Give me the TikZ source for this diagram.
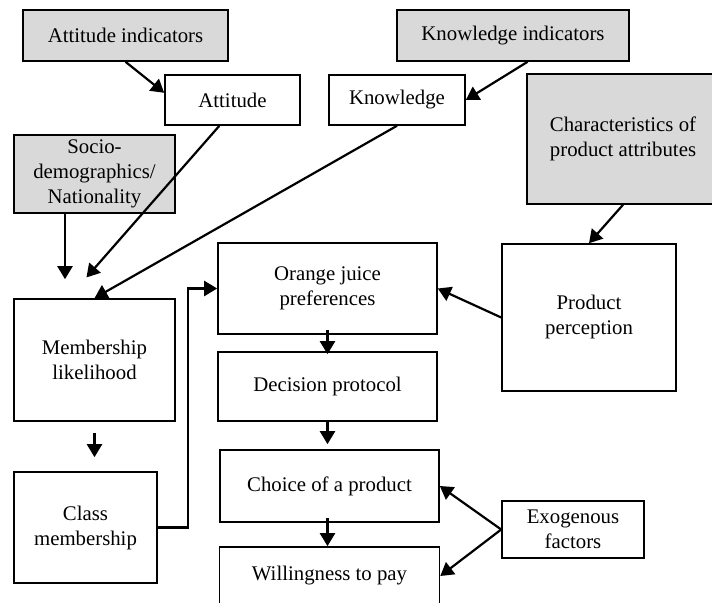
\documentclass[tikz,border=0pt]{standalone}
\usepackage{fontspec}
\setmainfont{Liberation Serif}
\usetikzlibrary{arrows.meta}
\definecolor{grisclair}{RGB}{217,217,217}
\begin{document}
\begin{tikzpicture}[x=0.5pt,y=-0.5pt]
\tikzset{boite/.style={draw, line width=0.8pt, align=center, inner sep=1pt, font=\fontsize{10.4}{12.5}\selectfont},
  boitegrise/.style={boite, fill=grisclair},
  fleche/.style={-{Triangle[length=6.5pt,width=7.5pt]}, line width=1.1pt}}
\useasboundingbox (0,0) rectangle (712,603);
\clip (0,0) rectangle (712,603);
\node[boitegrise, minimum width=102.5pt, minimum height=25.5pt] (AI) at (125.5,35.5) {Attitude indicators};
\node[boitegrise, minimum width=116pt, minimum height=25.5pt] (KI) at (513,35.5) {Knowledge indicators};
\node[boite, minimum width=67.5pt, minimum height=25pt] (A) at (232.5,100) {Attitude};
\node[boite, minimum width=68pt, minimum height=25pt] (K) at (397,100) {Knowledge};
\node[boitegrise, minimum width=96pt, minimum height=65pt] (C) at (623,139) {Characteristics of\\product attributes};
\node[boitegrise, minimum width=80.5pt, minimum height=39pt] (S) at (94.5,174) {Socio-\\demographics/\\Nationality};
\node[boite, minimum width=80.5pt, minimum height=61pt] (M) at (94.5,360) {Membership\\likelihood};
\node[boite, minimum width=71.5pt, minimum height=55.5pt] (CM) at (85.5,527.5) {Class\\membership};
\node[boite, minimum width=109.5pt, minimum height=45.5pt] (OJ) at (327.5,288.5) {Orange juice\\preferences};
\node[boite, minimum width=109.5pt, minimum height=34.5pt] (D) at (327.5,386.5) {Decision protocol};
\node[boite, minimum width=109.5pt, minimum height=36pt] (CP) at (329.5,486) {Choice of a product};
\node[boite, minimum width=110pt, minimum height=29pt] (W) at (329.5,576) {Willingness to pay};
\node[boite, minimum width=87pt, minimum height=73.5pt] (P) at (589,317.5) {Product\\perception};
\node[boite, minimum width=71pt, minimum height=28.5pt] (E) at (573,529.5) {Exogenous\\factors};
% indicators
\draw[fleche] (AI.south) -- (A.174);
\draw[fleche] (KI.-61) -- (K.east);
% towards membership likelihood
\draw[fleche, shorten >=13.8pt] (A.-117) -- (M.113);
\draw[fleche] (K.south) -- (M.north);
\draw[fleche] ([xshift=-14.75pt]S.south) -- ([xshift=-14.75pt, yshift=9.5pt]M.north);
\draw[fleche, shorten <=5.5pt, shorten >=7pt] (M.south) -- (M.south |- CM.north);
\draw[fleche] (CM.east) -- ++(30,0) |- (OJ.west);
% main chain
\draw[fleche] ([yshift=2.5pt]OJ.south) -- ([yshift=-1.5pt]D.north);
\draw[fleche, shorten >=2.5pt] (D.south) -- (D.south |- CP.north);
\draw[fleche] ([xshift=-1pt, yshift=2.5pt]CP.south) -- ([xshift=-1pt]W.north);
\draw[fleche] (C.south) -- (P.north);
\draw[fleche] (P.west) -- (OJ.east);
\draw[fleche] (E.west) -- (CP.east);
\draw[fleche] (E.west) -- (W.east);
\end{tikzpicture}
\end{document}
